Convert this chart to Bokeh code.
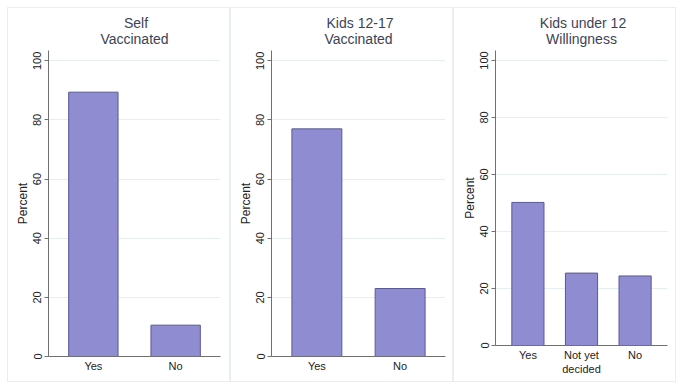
from bokeh.plotting import figure
from bokeh.models import FactorRange, Range1d, FixedTicker, ColumnDataSource, Title
from bokeh.layouts import row, column
from bokeh.embed import file_html
from bokeh.resources import INLINE

# ---- data ----
titles_top = ["Self", "Kids 12-17", "Kids under 12"]
titles_bottom = ["Vaccinated", "Vaccinated", "Willingness"]
cats_self = ["Yes", "No"]
vals_self = [89.4, 10.6]
cats_1217 = ["Yes", "No"]
vals_1217 = [77.0, 23.0]
cats_u12 = ["Yes", "Not yet\ndecided", "No"]
vals_u12 = [50.2, 25.4, 24.4]
y_ticks = [0, 20, 40, 60, 80, 100]

FONT = "Liberation Sans"
BAR_FILL = "#8f8cd2"
BAR_LINE = "#5a5996"
GRID = "#e7eef2"
AXIS = "#707070"
TITLE_COLOR = "#3c4356"


def style_title(t, standoff):
    t.align = "center"
    t.text_font = FONT
    t.text_font_size = "14px"
    t.text_font_style = "normal"
    t.text_color = TITLE_COLOR
    t.standoff = standoff


def make_panel(t_top, t_bot, cats, vals, pad, bl, br, bb):
    src = ColumnDataSource(dict(cat=cats, val=vals))
    p = figure(width=223, height=375,
               x_range=FactorRange(factors=cats, range_padding=pad),
               y_range=Range1d(0, 103.5),
               output_backend="svg", toolbar_location=None,
               min_border_left=bl, min_border_right=br,
               min_border_top=42, min_border_bottom=bb,
               title=t_top,
               styles={"border": "1px solid #e9eef2", "box-sizing": "border-box"})
    p.vbar(x="cat", top="val", width=0.6, source=src,
           fill_color=BAR_FILL, line_color=BAR_LINE, line_width=1)
    style_title(p.title, -13)
    p.title.padding = (3, 0, 0, 0)
    t2 = Title(text=t_bot)
    style_title(t2, 8)
    p.add_layout(t2, "above")
    p.outline_line_color = None
    p.xgrid.grid_line_color = None
    p.ygrid.grid_line_color = GRID
    p.ygrid.ticker = FixedTicker(ticks=y_ticks[1:])
    p.yaxis.ticker = FixedTicker(ticks=y_ticks)
    p.yaxis.minor_tick_line_color = None
    p.yaxis.major_tick_out = 4
    p.yaxis.major_tick_in = 0
    p.yaxis.major_label_orientation = "vertical"
    p.yaxis.major_label_standoff = 3
    p.yaxis.axis_label = "Percent"
    p.yaxis.axis_label_standoff = 1
    p.yaxis.axis_label_text_font_style = "normal"
    for ax in (p.xaxis[0], p.yaxis[0]):
        ax.axis_line_color = AXIS
        ax.major_tick_line_color = AXIS
        ax.major_label_text_font = FONT
        ax.major_label_text_font_size = "11px"
        ax.major_label_text_color = "#222222"
        ax.axis_label_text_font = FONT
        ax.axis_label_text_color = "#222222"
    p.yaxis.axis_label_text_font_size = "12px"
    p.xaxis.major_tick_line_color = None
    p.xaxis.major_tick_out = 0
    p.xaxis.major_label_standoff = 3
    return p


p1 = make_panel(titles_top[0], titles_bottom[0], cats_self, vals_self, 0.045, 40, 11, 27)
p2 = make_panel(titles_top[1], titles_bottom[1], cats_1217, vals_1217, 0.045, 40, 9, 27)
p3 = make_panel(titles_top[2], titles_bottom[2], cats_u12, vals_u12, 0.07, 41, 10, 38)

layout = row(column(p1), column(p2), column(p3),
             styles={"margin-left": "7px", "margin-top": "7px"})
open("out.html", "w").write(file_html(layout, INLINE))
